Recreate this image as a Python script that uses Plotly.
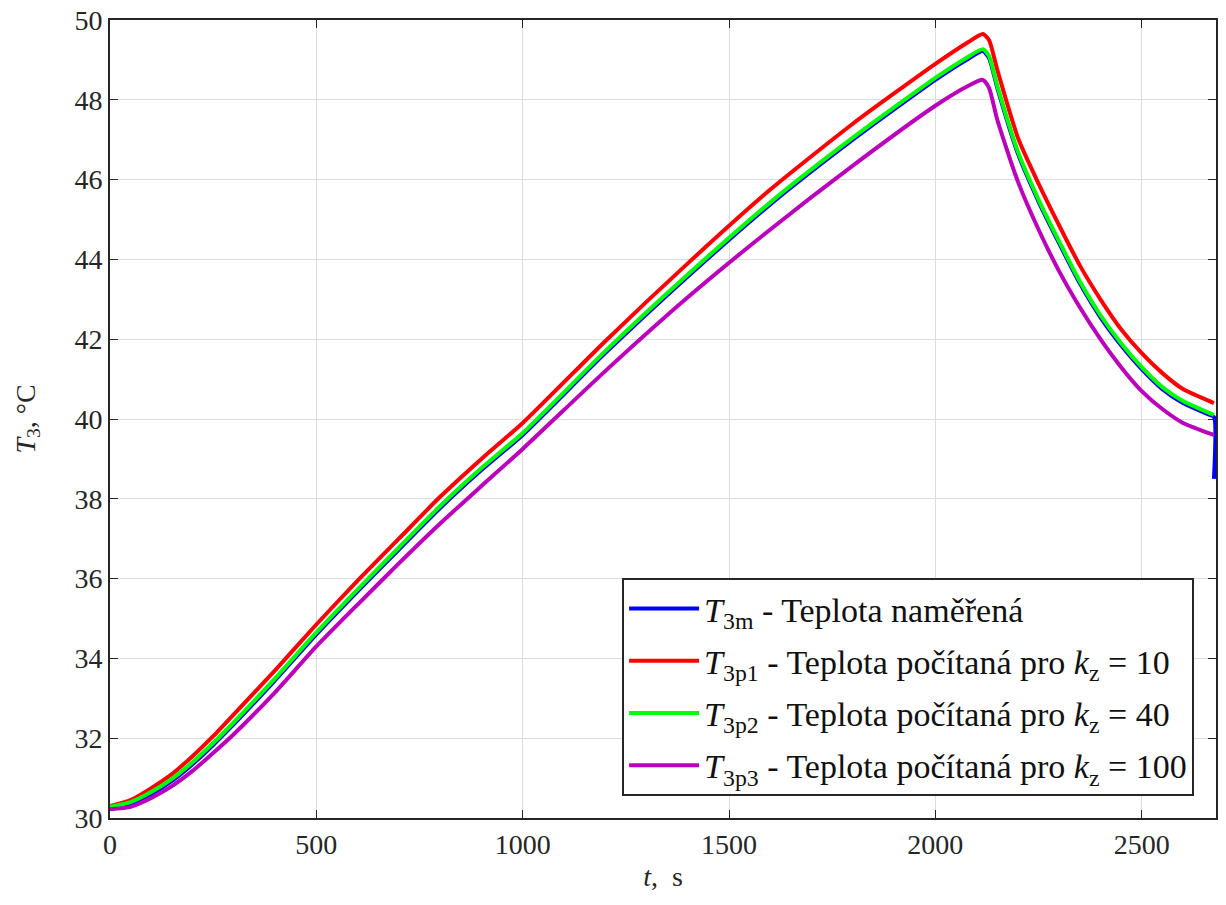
import plotly.graph_objects as go

# time axis, s
t = [0, 50, 100, 150, 200, 250, 300, 400, 500, 600, 700, 800, 900, 1000, 1200, 1400,
     1600, 1800, 2000, 2080, 2115, 2130, 2150, 2200, 2250, 2300, 2350, 2400, 2450,
     2500, 2550, 2600, 2675]

T3p1 = [30.30, 30.45, 30.75, 31.10, 31.55, 32.05, 32.60, 33.70, 34.85, 35.95, 37.00,
        38.05, 39.00, 39.90, 41.95, 43.90, 45.75, 47.40, 48.90, 49.45, 49.65, 49.50,
        48.75, 47.05, 45.90, 44.85, 43.85, 43.00, 42.25, 41.65, 41.15, 40.75, 40.40]
T3p2 = [30.28, 30.40, 30.65, 30.98, 31.40, 31.88, 32.40, 33.50, 34.65, 35.73, 36.78,
        37.82, 38.77, 39.65, 41.70, 43.62, 45.43, 47.05, 48.55, 49.08, 49.27, 49.10,
        48.35, 46.70, 45.50, 44.45, 43.45, 42.60, 41.90, 41.30, 40.80, 40.45, 40.10]
T3p3 = [30.22, 30.28, 30.50, 30.80, 31.18, 31.63, 32.10, 33.15, 34.30, 35.35, 36.38,
        37.38, 38.32, 39.25, 41.20, 43.05, 44.75, 46.35, 47.85, 48.35, 48.50, 48.30,
        47.50, 45.95, 44.75, 43.70, 42.80, 42.00, 41.30, 40.70, 40.25, 39.90, 39.60]

t_m = [0, 50, 100, 150, 200, 250, 300, 400, 500, 600, 700, 800, 900, 1000, 1200, 1400,
       1600, 1800, 2000, 2080, 2115, 2130, 2150, 2200, 2250, 2300, 2350, 2400, 2450,
       2500, 2550, 2600, 2660, 2675, 2675]
T3m = [30.25, 30.36, 30.60, 30.93, 31.35, 31.83, 32.35, 33.45, 34.60, 35.68, 36.73,
       37.77, 38.72, 39.60, 41.65, 43.57, 45.38, 47.00, 48.50, 49.03, 49.22, 49.05,
       48.30, 46.65, 45.45, 44.40, 43.40, 42.55, 41.85, 41.25, 40.75, 40.40, 40.12,
       40.05, 38.50]

x_ticks = [0, 500, 1000, 1500, 2000, 2500]
y_ticks = [30, 32, 34, 36, 38, 40, 42, 44, 46, 48, 50]

names = [
    "<i>T</i><sub>3m</sub> - Teplota naměřená",
    "<i>T</i><sub>3p1</sub> - Teplota počítaná pro <i>k</i><sub>z</sub> = 10",
    "<i>T</i><sub>3p2</sub> - Teplota počítaná pro <i>k</i><sub>z</sub> = 40",
    "<i>T</i><sub>3p3</sub> - Teplota počítaná pro <i>k</i><sub>z</sub> = 100",
]
colors = ["#0000FF", "#FF0000", "#00FF00", "#BB00BB"]

FONT = "Liberation Serif"
fig = go.Figure()
series = [(t_m, T3m), (t, T3p1), (t, T3p2), (t, T3p3)]
for i, ((xx, yy), n, c) in enumerate(zip(series, names, colors)):
    fig.add_trace(go.Scatter(x=xx, y=yy, mode="lines", name=n, legendgroup=f"g{i}",
                             line=dict(color=c, width=4, shape="spline", smoothing=0.6)))

axis_common = dict(showline=True, linecolor="#262626", linewidth=2, mirror="ticks",
                   ticks="inside", ticklen=8, tickcolor="#262626", showgrid=True,
                   gridcolor="#DCDCDC", gridwidth=1, zeroline=False, automargin=False,
                   tickfont=dict(family=FONT, size=28, color="#262626"))

fig.update_layout(
    width=1226, height=905,
    margin=dict(l=110, r=10, t=20, b=87),
    paper_bgcolor="white", plot_bgcolor="white",
    font=dict(family=FONT, size=30, color="#262626"),
    xaxis=dict(range=[0, 2680], tickvals=x_ticks,
               title=dict(text="<i>t</i>,  s", font=dict(family=FONT, size=28), standoff=8),
               **axis_common),
    yaxis=dict(range=[30, 50], tickvals=y_ticks,
               title=dict(text="<i>T</i><sub>3</sub>, °C", font=dict(family=FONT, size=28), standoff=31),
               **axis_common),
    legend=dict(x=0.463, y=0.3008, xanchor="left", yanchor="top",
                bgcolor="white", bordercolor="#262626", borderwidth=2,
                font=dict(family=FONT, size=34, color="#111111"),
                itemwidth=70, traceorder="grouped", tracegroupgap=5),
    showlegend=True,
)

fig.write_html("out.html", config={"displayModeBar": False},
               post_script="document.body.style.margin='0';")
